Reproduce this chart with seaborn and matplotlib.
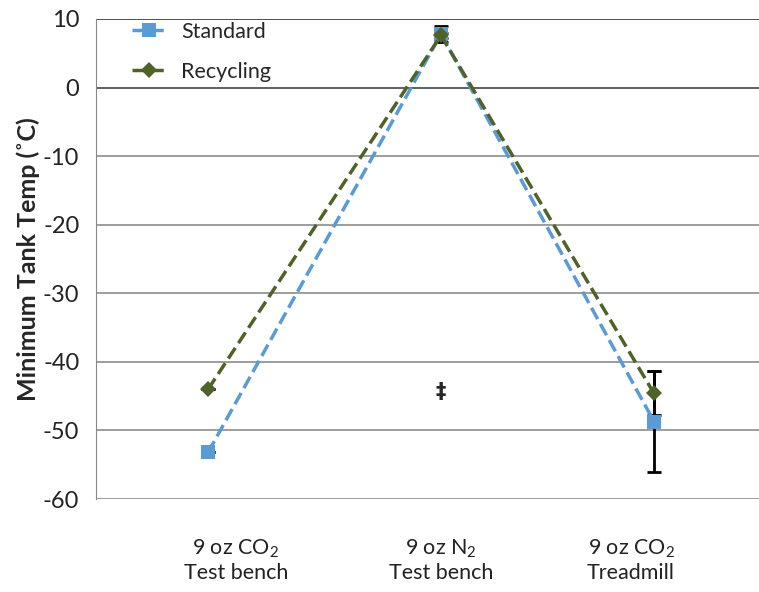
import matplotlib
matplotlib.use('Agg')
import matplotlib.pyplot as plt
import seaborn as sns
import pandas as pd

# Data
categories = ['9 oz CO$_2$\nTest bench', '9 oz N$_2$\nTest bench', '9 oz CO$_2$\nTreadmill']
point_x = [0.507, 1.561, 2.525]      # marker positions along the axis
label_x = [0.633, 1.561, 2.421]      # category label positions
standard = [-53.2, 7.8, -48.7]
standard_err = [0.0, 1.2, 7.3]
recycling = [-44.0, 7.6, -44.6]
recycling_err = [0.0, 0.4, 3.2]
dagger_y = -44.4

sns.set_style('white')
plt.rcParams['font.family'] = ['Lato', 'DejaVu Sans']
plt.rcParams['mathtext.default'] = 'regular'
plt.rcParams['axes.unicode_minus'] = False

df = pd.DataFrame({
    'x': point_x * 2,
    'temp': standard + recycling,
    'series': ['Standard'] * 3 + ['Recycling'] * 3,
})

fig = plt.figure(figsize=(7.59, 5.92), dpi=100)
ax = fig.add_axes([0.1265, 0.157, 0.8735, 0.811])

blue = '#5B9BD5'
green = '#4F6228'

sns.lineplot(data=df[df.series == 'Standard'], x='x', y='temp', ax=ax, color=blue,
             linestyle='--', linewidth=2.5, marker='s', markersize=10,
             markeredgewidth=0, label='Standard', zorder=3)
sns.lineplot(data=df[df.series == 'Recycling'], x='x', y='temp', ax=ax, color=green,
             linestyle='--', linewidth=2.5, marker='D', markersize=8.5,
             markeredgewidth=0, label='Recycling', zorder=4)

ax.errorbar(point_x, standard, yerr=standard_err, fmt='none', ecolor='black',
            elinewidth=2, capsize=5, capthick=2, zorder=2)
ax.errorbar(point_x, recycling, yerr=recycling_err, fmt='none', ecolor='black',
            elinewidth=2, capsize=5, capthick=2, zorder=2)

ax.text(point_x[1], dagger_y, '\u2021', ha='center', va='center',
        fontsize=15, fontweight='bold', family=['DejaVu Sans'])

ax.set_xlim(0, 3)
ax.set_ylim(-60, 10)
ax.set_yticks(range(-60, 11, 10))
ax.set_xticks(label_x)
ax.set_xticklabels(categories, fontsize=15.5, color='#222222')
ax.tick_params(axis='x', length=0, pad=28)
ax.tick_params(axis='y', length=8, width=1, color='#888888', labelsize=17,
               labelcolor='#222222', direction='out', pad=4)
ax.set_xlabel('')
ax.set_ylabel('Minimum Tank Temp (\u02daC)', fontsize=18, fontweight='bold', labelpad=2)

ax.grid(axis='y', color='#8c8c8c', linewidth=1.2)
ax.set_axisbelow(True)
gl = ax.get_ygridlines()
gl[-1].set_color('#333333')
gl[-2].set_color('#444444')
for sp in ['top', 'right', 'bottom']:
    ax.spines[sp].set_visible(False)
ax.spines['left'].set_color('#888888')

leg = ax.legend(loc='upper left', bbox_to_anchor=(0.025, 1.035), frameon=False,
                fontsize=15.5, handlelength=1.6, handletextpad=0.7, labelspacing=0.95)

fig.savefig('out.png', dpi=100)
